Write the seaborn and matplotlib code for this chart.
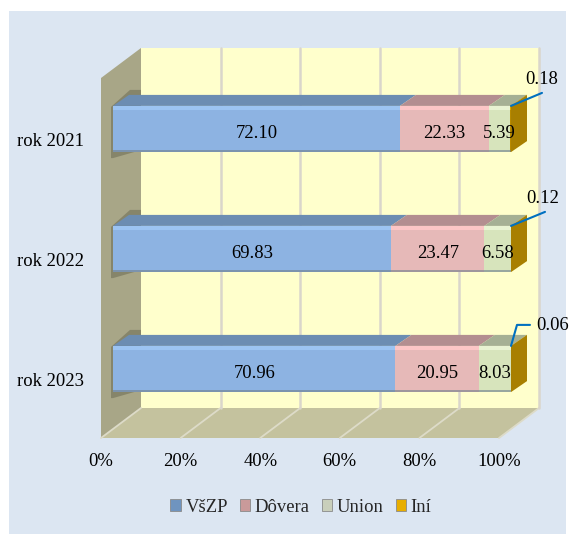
import matplotlib
matplotlib.use("Agg")
import matplotlib.pyplot as plt
import seaborn as sns
from matplotlib.patches import Patch, Polygon, Rectangle
from matplotlib.transforms import Affine2D, IdentityTransform

# data
years = ["rok 2021", "rok 2022", "rok 2023"]
names = ["VšZP", "Dôvera", "Union", "Iní"]
vszp = [72.10, 69.83, 70.96]
dovera = [22.33, 23.47, 20.95]
union = [5.39, 6.58, 8.03]
ini = [0.18, 0.12, 0.06]
x_ticks = [0, 20, 40, 60, 80, 100]

# colours
front_cols = ["#8DB3E2", "#E6B9B8", "#D7E4BC", "#B98A00"]
top_cols = ["#6C8DB2", "#B38E90", "#A5B094", "#8E7A20"]
light_cols = ["#9CC4F2", "#FCC6C6", "#E8F3D2", "#D9A400"]
legend_cols = ["#6F94BF", "#C99A9A", "#C9CFBB", "#E8AE00"]
panel_col = "#DCE6F2"
wall_col = "#FFFFCC"
side_col = "#A8A687"
floor_col = "#C4C29E"
grid_col = "#DAD6CB"
font_size = 13.4

sns.set_theme(style="white")
plt.rcParams["font.family"] = ["Liberation Serif", "DejaVu Serif"]

fig = plt.figure(figsize=(5.75, 5.34), dpi=100, facecolor="white")
fig.patches.append(Rectangle((9 / 575, 0), 557 / 575, 523 / 534, transform=fig.transFigure,
                             facecolor=panel_col, edgecolor="none", zorder=-10))
ax = fig.add_axes([101 / 575, 96 / 534, 398 / 575, 360 / 534])
ax.patch.set_alpha(0)

bar_h = 0.385
lefts = [0, 0, 0]
series = [vszp, dovera, union, ini]
starts = []
for k, vals in enumerate(series):
    starts.append(list(lefts))
    sns.barplot(x=vals, y=years, left=lefts, orient="h", color=front_cols[k], saturation=1,
                width=bar_h, ax=ax, zorder=5, linewidth=0)
    lefts = [a + b for a, b in zip(lefts, vals)]

ax.set_xlim(0, 100)
ax.set_ylim(2.5, -0.5)
ax.set_xticks(x_ticks)
ax.set_xticklabels([f"{t}%" for t in x_ticks])
ax.tick_params(axis="both", length=0, labelsize=font_size, colors="black")
ax.tick_params(axis="x", pad=11)
ax.tick_params(axis="y", pad=12)
for lab in ax.get_yticklabels():
    lab.set_transform(lab.get_transform() + Affine2D().translate(0, -2))
ax.set_xlabel("")
ax.set_ylabel("")
sns.despine(ax=ax, left=True, bottom=True)

# the 3d look is made of faces placed from the axes scales, in pixels
bar_shift = (12, 9)
bar_depth = (16, 11)
wall_depth = (40, 30)
for cont in ax.containers:
    for p in cont:
        p.set_transform(ax.transData + Affine2D().translate(*bar_shift))
        p.set_clip_on(False)


def px(x, y, off=(0, 0)):
    a, b = ax.transData.transform((x, y))
    return (a + off[0], b + off[1])


def add(o, d):
    return (o[0] + d[0], o[1] + d[1])


def face(points, color, z, alpha=None):
    fig.add_artist(Polygon(points, closed=True, transform=IdentityTransform(), facecolor=color,
                           edgecolor="none", zorder=z, alpha=alpha))


y0, y1 = 2.5, -0.5
# back wall, side wall, floor
bl, br = px(0, y0), px(100, y0)
tl = px(0, y1)
face([add(bl, wall_depth), add(br, wall_depth), add(px(100, y1), wall_depth), add(tl, wall_depth)], wall_col, -5)
face([bl, tl, add(tl, wall_depth), add(bl, wall_depth)], side_col, -4)
face([bl, br, add(br, wall_depth), add(bl, wall_depth)], floor_col, -4)
for t in x_ticks:
    b = px(t, y0)
    fig.add_artist(plt.Line2D([b[0], b[0] + wall_depth[0]], [b[1], b[1] + wall_depth[1]],
                              transform=IdentityTransform(), color="#DDDBC8", lw=1.3, zorder=-3))
    if t > 0:
        back = add(b, wall_depth)
        top = add(px(t, y1), wall_depth)
        fig.add_artist(plt.Line2D([back[0], top[0]], [back[1], top[1]], transform=IdentityTransform(),
                                  color=grid_col, lw=1.8, zorder=-3))

# bars: shadow on side wall, top faces, highlight, end face
for i in range(3):
    f_tl = px(0, i - bar_h / 2, bar_shift)
    f_bl = px(0, i + bar_h / 2, bar_shift)
    face([add(f_tl, (-2, -1)), add(f_tl, (17, 16)), add(f_tl, (28, 16)), add(f_bl, (28, 2)),
          add(f_bl, (0, -6)), add(f_bl, (-2, -6))], "#5E5D48", -2, alpha=0.45)
    for k, vals in enumerate(series):
        l = starts[k][i]
        r = l + vals[i]
        a = px(l, i - bar_h / 2, bar_shift)
        b = px(r, i - bar_h / 2, bar_shift)
        face([a, b, add(b, bar_depth), add(a, bar_depth)], top_cols[k], 6)
        face([a, b, add(b, (0, -4)), add(a, (0, -4))], light_cols[k], 6)
    c = px(0, i + bar_h / 2, bar_shift)
    d = px(100, i + bar_h / 2, bar_shift)
    face([c, d, add(d, (0, 2)), add(c, (0, 2))], "#6F7F8C", 6, alpha=0.6)
    e = px(100, i - bar_h / 2, bar_shift)
    face([e, d, add(d, bar_depth), add(e, bar_depth)], "#A87F00", 7)

# value labels
label_tf = ax.transData + Affine2D().translate(bar_shift[0], bar_shift[1] - 4)
for k in range(3):
    for i in range(3):
        fig.text(starts[k][i] + series[k][i] / 2, i, f"{series[k][i]:.2f}", transform=label_tf,
                 ha="center", va="center", fontsize=font_size, color="black", zorder=8)

# leader lines to the small share
leaders = [[(0, 0), (31, 13)], [(0, 0), (34, 14)], [(0, 0), (6, 21), (19, 21)]]
leader_text = [(31, 26), (32, 27), (42, 20)]
for i in range(3):
    start = px(100, i - bar_h / 2, bar_shift)
    xs = [start[0] + p[0] for p in leaders[i]]
    ys = [start[1] + p[1] for p in leaders[i]]
    fig.add_artist(plt.Line2D(xs, ys, transform=IdentityTransform(), color="#0070C0", lw=1.5, zorder=9))
    fig.text(start[0] + leader_text[i][0], start[1] + leader_text[i][1], f"{ini[i]:.2f}",
             transform=IdentityTransform(), ha="center", va="center", fontsize=font_size, color="black", zorder=9)

handles = [Patch(facecolor=legend_cols[k], edgecolor="#8A8A8A", linewidth=0.6, label=names[k]) for k in range(4)]
fig.legend(handles=handles, loc="center", bbox_to_anchor=(301 / 575, 1 - 507 / 534), ncol=4, frameon=False,
           fontsize=font_size, handlelength=0.55, handleheight=0.6, handletextpad=0.25, columnspacing=0.65,
           borderpad=0, borderaxespad=0)

fig.savefig("out.png", dpi=100)
